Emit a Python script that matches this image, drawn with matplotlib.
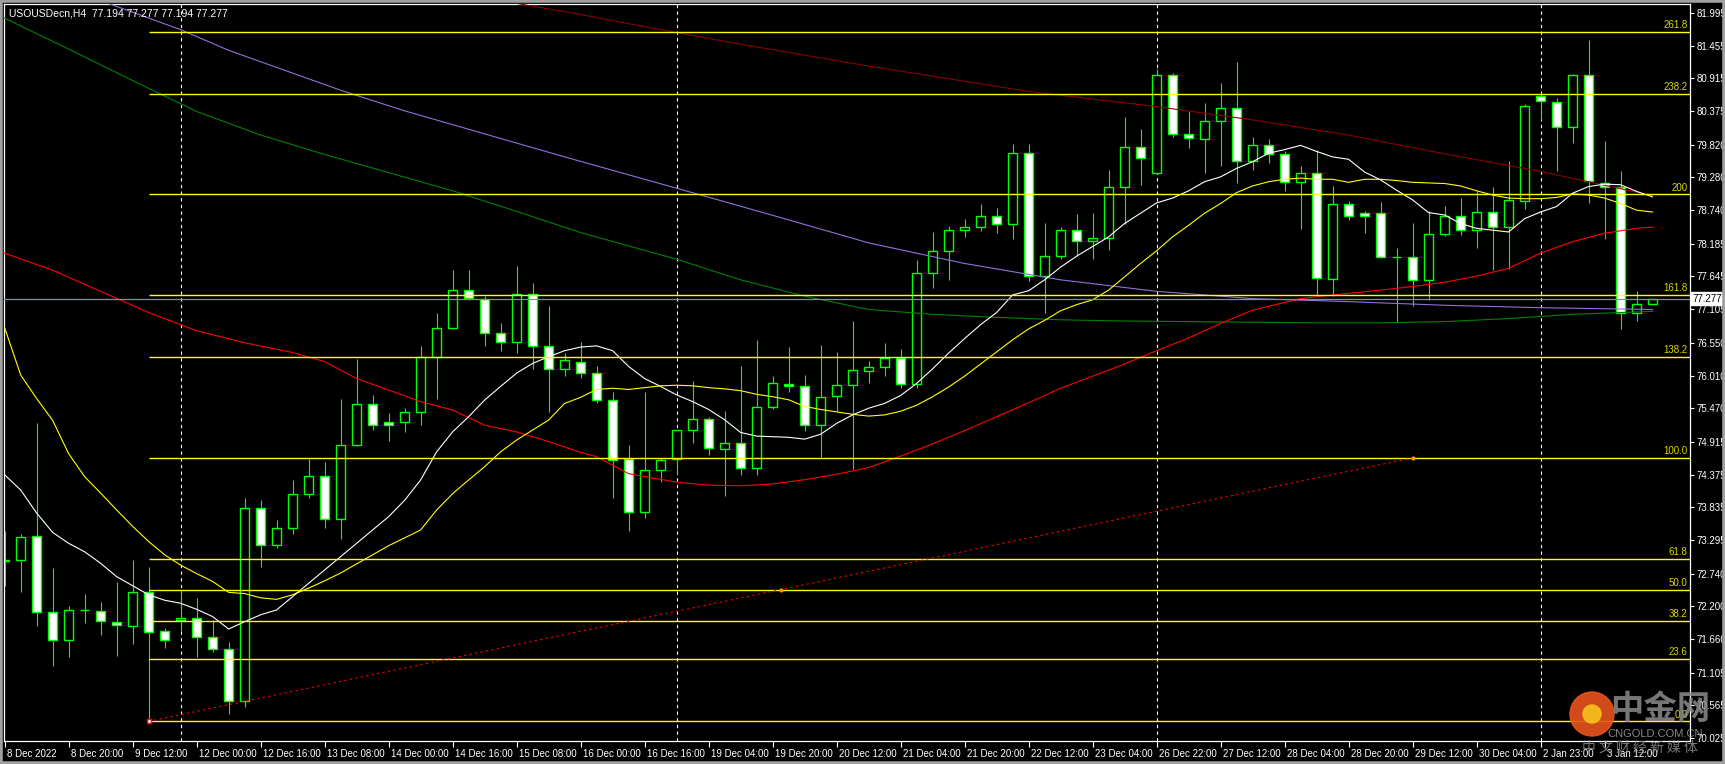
import matplotlib
matplotlib.use("Agg")
import numpy as np
import matplotlib.pyplot as plt
import matplotlib.transforms as mtransforms
from matplotlib.patches import Circle, Rectangle

plt.rcParams['font.family'] = ['Liberation Sans', 'DejaVu Sans']

# --- candles (H4) ---
opens = [72.95, 72.96, 73.36, 72.10, 71.64, 72.14, 72.13, 71.94, 71.88, 72.43,
         71.79, 71.97, 72.00, 71.70, 71.49, 70.63, 73.82, 73.21, 73.50, 74.05,
         74.345, 73.635, 74.857, 75.534, 75.25, 75.25, 75.40, 76.31, 76.79, 77.42,
         77.28, 76.71, 76.56, 77.35, 76.49, 76.11, 76.24, 76.05, 75.60, 74.63,
         73.75, 74.445, 74.64, 75.105, 75.29, 74.79, 74.89, 74.49, 75.485, 75.865,
         75.83, 75.20, 75.67, 75.85, 76.08, 76.145, 76.30, 75.87, 77.70, 78.06,
         78.41, 78.46, 78.64, 78.52, 79.68, 77.65, 77.98, 78.41, 78.225, 78.275,
         79.13, 79.78, 79.36, 80.98, 79.99, 79.92, 80.22, 80.42, 79.56, 79.81,
         79.66, 79.20, 79.35, 77.61, 78.85, 78.69, 78.69, 77.96, 77.97, 77.59,
         78.34, 78.64, 78.42, 78.715, 78.46, 78.885, 80.63, 80.52, 80.12, 80.98,
         79.19, 79.12, 77.04, 77.194]
highs = [73.44, 73.39, 75.22, 72.83, 72.20, 72.41, 72.27, 72.60, 72.96, 72.85,
         71.84, 72.45, 72.34, 71.97, 71.61, 73.98, 73.95, 73.625, 74.29, 74.64,
         74.58, 75.63, 76.29, 75.69, 75.39, 75.47, 76.50, 77.04, 77.75, 77.75,
         77.33, 76.87, 77.82, 77.54, 77.15, 76.39, 76.56, 76.17, 75.74, 74.86,
         75.74, 74.65, 75.105, 75.92, 75.33, 75.42, 76.17, 76.60, 76.00, 76.48,
         76.02, 76.51, 76.40, 76.91, 76.25, 76.55, 76.45, 77.92, 78.38, 78.48,
         78.59, 78.84, 78.77, 79.84, 79.83, 78.53, 78.47, 78.68, 78.70, 79.40,
         80.28, 80.08, 81.065, 81.00, 80.38, 80.51, 80.84, 81.185, 79.95, 79.91,
         79.72, 79.47, 79.73, 79.14, 78.885, 78.73, 78.87, 78.11, 78.53, 78.73,
         78.81, 78.935, 79.06, 79.12, 79.55, 80.49, 80.67, 80.60, 80.99, 81.55,
         79.88, 79.39, 77.405, 77.277]
lows = [72.54, 72.43, 71.88, 71.22, 71.37, 71.93, 71.73, 71.38, 71.58, 70.27,
        71.51, 71.80, 71.37, 71.45, 70.43, 70.53, 72.85, 73.17, 73.40, 73.98,
        73.50, 73.31, 74.85, 75.115, 74.93, 75.07, 75.20, 75.63, 76.79, 77.26,
        76.49, 76.42, 76.39, 76.11, 75.41, 76.01, 75.97, 75.56, 73.99, 73.45,
        73.66, 74.26, 74.37, 74.90, 74.70, 74.02, 74.36, 74.37, 75.46, 75.73,
        75.10, 74.67, 75.42, 74.46, 75.89, 76.00, 75.80, 75.80, 77.46, 77.58,
        78.30, 78.40, 78.37, 78.27, 77.57, 77.05, 77.93, 77.99, 77.94, 78.09,
        78.52, 79.16, 79.34, 79.94, 79.77, 79.35, 79.47, 79.19, 79.40, 79.52,
        79.06, 78.43, 77.33, 77.32, 78.57, 78.37, 77.945, 76.90, 77.15, 77.26,
        78.32, 78.335, 78.12, 77.76, 77.77, 78.76, 80.23, 79.39, 79.855, 78.86,
        78.26, 76.78, 76.91, 77.194]
closes = [72.97, 73.34, 72.10, 71.64, 72.14, 72.145, 71.95, 71.89, 72.43, 71.78,
          71.65, 72.00, 71.70, 71.49, 70.63, 73.82, 73.21, 73.50, 74.05, 74.345,
          73.635, 74.857, 75.534, 75.20, 75.20, 75.40, 76.31, 76.79, 77.42, 77.29,
          76.71, 76.56, 77.35, 76.49, 76.11, 76.26, 76.045, 75.60, 74.61, 73.75,
          74.445, 74.61, 75.105, 75.29, 74.81, 74.89, 74.49, 75.485, 75.88, 75.83,
          75.20, 75.65, 75.85, 76.10, 76.145, 76.30, 75.87, 77.71, 78.06, 78.42,
          78.46, 78.64, 78.52, 79.68, 77.65, 77.98, 78.41, 78.225, 78.275, 79.13,
          79.78, 79.60, 80.98, 79.99, 79.925, 80.206, 80.42, 79.56, 79.81, 79.66,
          79.20, 79.35, 77.625, 78.85, 78.64, 78.64, 77.96, 77.965, 77.59, 78.34,
          78.64, 78.42, 78.715, 78.46, 78.90, 80.454, 80.54, 80.12, 80.965, 79.215,
          79.12, 77.04, 77.194, 77.277]

# --- moving averages, sampled (bar index, price) ---
ma_white_idx = list(range(104))
ma_white = [74.37, 74.12, 73.74, 73.42, 73.24, 73.10, 72.91, 72.69, 72.54, 72.39,
            72.30, 72.25, 72.15, 72.03, 71.825, 71.945, 72.06, 72.14, 72.36, 72.58,
            72.80, 73.02, 73.24, 73.46, 73.68, 73.95, 74.285, 74.75, 75.08, 75.33,
            75.605, 75.83, 76.05, 76.21, 76.32, 76.42, 76.48, 76.50, 76.42, 76.16,
            75.96, 75.83, 75.69, 75.58, 75.45, 75.28, 75.07, 75.01, 75.00, 74.99,
            74.96, 75.04, 75.22, 75.36, 75.47, 75.55, 75.68, 75.88, 76.12, 76.38,
            76.62, 76.85, 77.05, 77.34, 77.41, 77.59, 77.80, 77.98, 78.14, 78.30,
            78.52, 78.69, 78.86, 78.94, 79.06, 79.21, 79.29, 79.43, 79.54, 79.68,
            79.74, 79.81, 79.71, 79.62, 79.58, 79.37, 79.24, 79.07, 78.91, 78.70,
            78.66, 78.52, 78.44, 78.41, 78.38, 78.60, 78.71, 78.80, 79.02, 79.13,
            79.17, 79.16, 79.05, 78.96]
ma_yellow_idx = list(range(104))
ma_yellow = [76.80, 76.02, 75.63, 75.27, 74.72, 74.34, 74.07, 73.79, 73.52, 73.27,
             73.05, 72.88, 72.74, 72.61, 72.43, 72.41, 72.34, 72.315, 72.39, 72.50,
             72.62, 72.75, 72.90, 73.05, 73.20, 73.33, 73.46, 73.79, 74.06, 74.285,
             74.505, 74.75, 74.945, 75.11, 75.275, 75.55, 75.65, 75.78, 75.80, 75.78,
             75.81, 75.84, 75.85, 75.84, 75.81, 75.79, 75.76, 75.70, 75.66, 75.61,
             75.50, 75.45, 75.41, 75.37, 75.34, 75.36, 75.42, 75.52, 75.66, 75.82,
             76.00, 76.20, 76.40, 76.60, 76.78, 76.92, 77.08, 77.18, 77.26, 77.42,
             77.64, 77.86, 78.07, 78.30, 78.49, 78.69, 78.85, 79.03, 79.14, 79.21,
             79.25, 79.27, 79.25, 79.25, 79.20, 79.25, 79.25, 79.23, 79.20, 79.19,
             79.18, 79.14, 79.06, 78.99, 78.94, 78.93, 78.93, 78.95, 79.01, 78.99,
             78.94, 78.85, 78.74, 78.71]
ma_red_idx = [0, 3, 6, 9, 12, 15, 18, 20, 22, 24, 26, 28, 30, 32, 34, 36, 37, 38, 39,
              40, 42, 44, 46, 48, 50, 52, 54, 56, 58, 60, 62, 64, 66, 68, 70, 72, 74,
              76, 78, 81, 83, 86, 88, 90, 92, 94, 96, 98, 100, 102, 103]
ma_red = [78.03, 77.75, 77.40, 77.05, 76.75, 76.55, 76.39, 76.24, 75.96, 75.77,
          75.58, 75.44, 75.19, 75.08, 74.92, 74.74, 74.67, 74.53, 74.39, 74.34,
          74.25, 74.20, 74.19, 74.22, 74.29, 74.38, 74.49, 74.68, 74.88, 75.10,
          75.33, 75.56, 75.80, 76.00, 76.20, 76.42, 76.63, 76.87, 77.09, 77.28,
          77.34, 77.42, 77.48, 77.55, 77.65, 77.78, 78.03, 78.22, 78.36, 78.44, 78.46]
ma_green_idx = [0, 4, 8, 12, 16, 20, 24, 28, 32, 36, 42, 46, 50, 54, 58, 62, 66, 70,
                74, 78, 82, 86, 90, 94, 98, 103]
ma_green = [81.91, 81.40, 80.88, 80.37, 79.98, 79.66, 79.36, 79.06, 78.72, 78.37,
            77.93, 77.59, 77.32, 77.10, 77.02, 76.97, 76.93, 76.91, 76.90, 76.89,
            76.88, 76.88, 76.90, 76.95, 77.02, 77.07]
ma_purple_idx = [6, 11, 14, 21, 25, 30, 35, 40, 45, 49, 54, 60, 66, 72, 78, 84, 90, 96, 103]
ma_purple = [82.20, 81.72, 81.38, 80.72, 80.38, 80.00, 79.62, 79.25, 78.88, 78.58,
             78.20, 77.86, 77.59, 77.40, 77.28, 77.23, 77.17, 77.13, 77.10]
ma_darkred_idx = [31, 36, 40, 46, 54, 64, 72, 78, 84, 90, 96, 103]
ma_darkred = [82.20, 81.97, 81.77, 81.48, 81.12, 80.70, 80.45, 80.23, 79.98, 79.67,
              79.38, 78.98]

# --- fibonacci retracement/expansion ---
fib_start_bar, fib_low = 9, 70.30
fib_end_bar, fib_high = 88, 74.65
fib_ratios = [0.0, 0.236, 0.382, 0.5, 0.618, 1.0, 1.382, 1.618, 2.0, 2.382, 2.618]
fib_labels = ["0.0", "23.6", "38.2", "50.0", "61.8", "100.0", "138.2", "161.8",
              "200", "238.2", "261.8"]

# --- axis labels ---
price_ticks = [81.995, 81.455, 80.915, 80.375, 79.820, 79.280, 78.740, 78.185,
               77.645, 77.105, 76.550, 76.010, 75.470, 74.915, 74.375, 73.835,
               73.295, 72.740, 72.200, 71.660, 71.105, 70.565, 70.025]
time_tick_bars = list(range(0, 104, 4))
time_tick_labels = ["8 Dec 2022", "8 Dec 20:00", "9 Dec 12:00", "12 Dec 00:00",
                    "12 Dec 16:00", "13 Dec 08:00", "14 Dec 00:00", "14 Dec 16:00",
                    "15 Dec 08:00", "16 Dec 00:00", "16 Dec 16:00", "19 Dec 04:00",
                    "19 Dec 20:00", "20 Dec 12:00", "21 Dec 04:00", "21 Dec 20:00",
                    "22 Dec 12:00", "23 Dec 04:00", "26 Dec 22:00", "27 Dec 12:00",
                    "28 Dec 04:00", "28 Dec 20:00", "29 Dec 12:00", "30 Dec 04:00",
                    "2 Jan 23:00", "3 Jan 12:00"]
week_separators = [11, 42, 72, 96]
last_price = 77.277

W, H = 1725, 764
fig = plt.figure(figsize=(W / 100, H / 100), dpi=100, facecolor='black')
ax = fig.add_axes([4 / W, 23 / H, 1686 / W, 737 / H], facecolor='black')

idx = np.arange(len(opens))
o = np.array(opens); c = np.array(closes)
bull = c >= o

# wicks then bodies
ax.vlines(idx, lows, highs, color='#00ff00', lw=0.8, zorder=2)
ax.bar(idx[bull], (c - o)[bull], bottom=o[bull], width=0.6, color='black',
       edgecolor='#00ff00', linewidth=1.0, zorder=2.5)
ax.bar(idx[~bull], (o - c)[~bull], bottom=c[~bull], width=0.6, color='white',
       edgecolor='#00ff00', linewidth=1.0, zorder=2.5)

# moving averages
ax.plot(ma_darkred_idx, ma_darkred, color='#8b0000', lw=0.8, zorder=3)
ax.plot(ma_purple_idx, ma_purple, color='#9370db', lw=0.8, zorder=3)
ax.plot(ma_green_idx, ma_green, color='#008000', lw=0.8, zorder=3)
ax.plot(ma_red_idx, ma_red, color='#ff0000', lw=0.8, zorder=3)
ax.plot(ma_yellow_idx, ma_yellow, color='#ffff00', lw=0.8, zorder=3)
ax.plot(ma_white_idx, ma_white, color='white', lw=0.8, zorder=3)

xmax = 105.34
# fibonacci levels
for r, lab in zip(fib_ratios, fib_labels):
    lvl = fib_low + r * (fib_high - fib_low)
    ax.hlines(lvl, fib_start_bar, xmax, color='#ffff00', lw=1.0, zorder=3)
    ax.text(xmax - 0.15, lvl + 0.03, lab, color='#d8d800', fontsize=7,
            ha='right', va='bottom', zorder=4)
ax.plot([fib_start_bar, fib_end_bar], [fib_low, fib_high], color='#ff0000',
        lw=0.8, linestyle=(0, (2, 3)), zorder=3)
ax.plot([fib_start_bar], [fib_low], marker='s', ms=3, mfc='white', mec='red', zorder=4)
ax.plot([(fib_start_bar + fib_end_bar) / 2, fib_end_bar],
        [(fib_low + fib_high) / 2, fib_high], 'o', ms=2, color='#ff9900', zorder=4)

# current price line
ax.axhline(last_price, color='#8090a0', lw=0.9, zorder=3)

# weekly separators
for b in week_separators:
    ax.axvline(b, color='white', lw=0.8, linestyle=(0, (3, 3)), zorder=1)

ax.set_xlim(-0.04, xmax)
ax.set_ylim(69.976, 82.144)

for s in ax.spines.values():
    s.set_color('white')
    s.set_linewidth(0.9)

ax.yaxis.tick_right()
ax.set_yticks(price_ticks)
ax.set_yticklabels([f"{p:.3f}" for p in price_ticks])
ax.tick_params(axis='y', colors='white', labelcolor='white', labelsize=7,
               length=3, width=0.8, pad=2)
ax.set_xticks(time_tick_bars)
ax.set_xticklabels(time_tick_labels, ha='left')
ax.tick_params(axis='x', colors='white', labelcolor='white', labelsize=7,
               length=4, width=0.8, pad=2)
offset = mtransforms.ScaledTranslation(2 / 100, 0, fig.dpi_scale_trans)
for lbl in ax.get_xticklabels():
    lbl.set_transform(lbl.get_transform() + offset)

# last price tag on axis
trans = mtransforms.blended_transform_factory(ax.transAxes, ax.transData)
ax.text(1.0015, last_price, "77.277", transform=trans, color='black', fontsize=7,
        ha='left', va='center', zorder=5, clip_on=False,
        bbox=dict(boxstyle='square,pad=0.15', fc='white', ec='white'))

# header
fig.text(9 / W, 1 - 13 / H, "USOUSDecn,H4  77.194 77.277 77.194 77.277",
         color='white', fontsize=7.5, ha='left', va='center')

# watermark
fig.add_artist(Circle((15.92, 0.50), 0.22, transform=fig.dpi_scale_trans,
                      color='#e8541c', alpha=0.9, zorder=10))
fig.add_artist(Circle((15.92, 0.50), 0.09, transform=fig.dpi_scale_trans,
                      color='#f7c21e', alpha=0.9, zorder=10))
cjk = ['Noto Sans CJK SC', 'DejaVu Sans']
fig.text(1660 / W, 54 / H, "中金网", family=cjk, fontsize=24, fontweight='bold',
         color='#8c8c8c', alpha=0.85, ha='center', va='center', zorder=10)
fig.text(1655 / W, 30 / H, "CNGOLD.COM.CN", fontsize=8, color='#a0a0a0',
         alpha=0.85, ha='center', va='center', zorder=10)
fig.text(1640 / W, 16 / H, "中 文 财 经 新 媒 体", family=cjk, fontsize=10,
         color='#8c8c8c', alpha=0.85, ha='center', va='center', zorder=10)

# window border
fig.add_artist(Rectangle((0, 0), 1, 1, transform=fig.transFigure, fill=False,
                         edgecolor='#a0a0a0', linewidth=4))

fig.savefig("out.png", dpi=100, facecolor='black')
